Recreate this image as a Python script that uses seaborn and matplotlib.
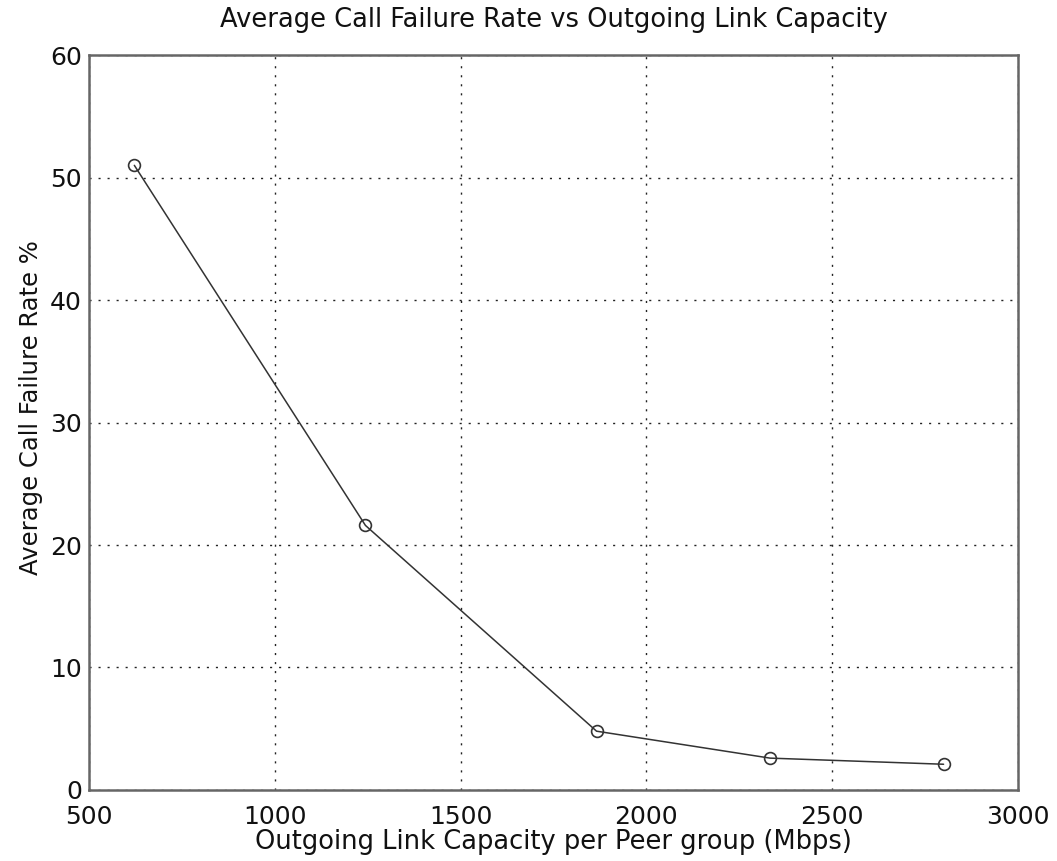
import matplotlib
matplotlib.use("Agg")
import matplotlib.pyplot as plt
import seaborn as sns
import pandas as pd

capacity = [622, 1244, 1866, 2333, 2800]
failure_rate = [51.0, 21.6, 4.8, 2.6, 2.1]
x_ticks = [500, 1000, 1500, 2000, 2500, 3000]
y_ticks = [0, 10, 20, 30, 40, 50, 60]

sns.set_theme(style="white")
plt.rcParams['font.family'] = ['DejaVu Sans']

df = pd.DataFrame({"cap": capacity, "rate": failure_rate})

fig = plt.figure(figsize=(10.57, 8.61), dpi=100)
ax = fig.add_axes([0.0842, 0.0825, 0.963 - 0.0842, 0.936 - 0.0825])

sns.lineplot(data=df, x="cap", y="rate", ax=ax, color="#333333", linewidth=1.1,
             marker="o", markersize=8.5, markerfacecolor="none",
             markeredgecolor="#333333", markeredgewidth=1.2)

ax.set_xlim(500, 3000)
ax.set_ylim(0, 60)
ax.set_xticks(x_ticks)
ax.set_yticks(y_ticks)
ax.tick_params(axis="both", labelsize=18, colors="#111111", length=0)
ax.tick_params(axis="x", pad=10.5)
ax.tick_params(axis="y", pad=5)
ax.grid(True, linestyle=(0, (1.5, 5)), color="#222222", linewidth=1.0)
for s in ax.spines.values():
    s.set_color("#666666")
    s.set_linewidth(1.8)

ax.set_xlabel("Outgoing Link Capacity per Peer group (Mbps)", fontsize=18.5, labelpad=0, color="#111111")
ax.set_ylabel("Average Call Failure Rate %", fontsize=17.5, color="#111111")
ax.yaxis.set_label_coords(-0.0495, 0.521)
ax.set_title("Average Call Failure Rate vs Outgoing Link Capacity", fontsize=18.5, pad=20, color="#111111")

fig.savefig("out.png", dpi=100)
